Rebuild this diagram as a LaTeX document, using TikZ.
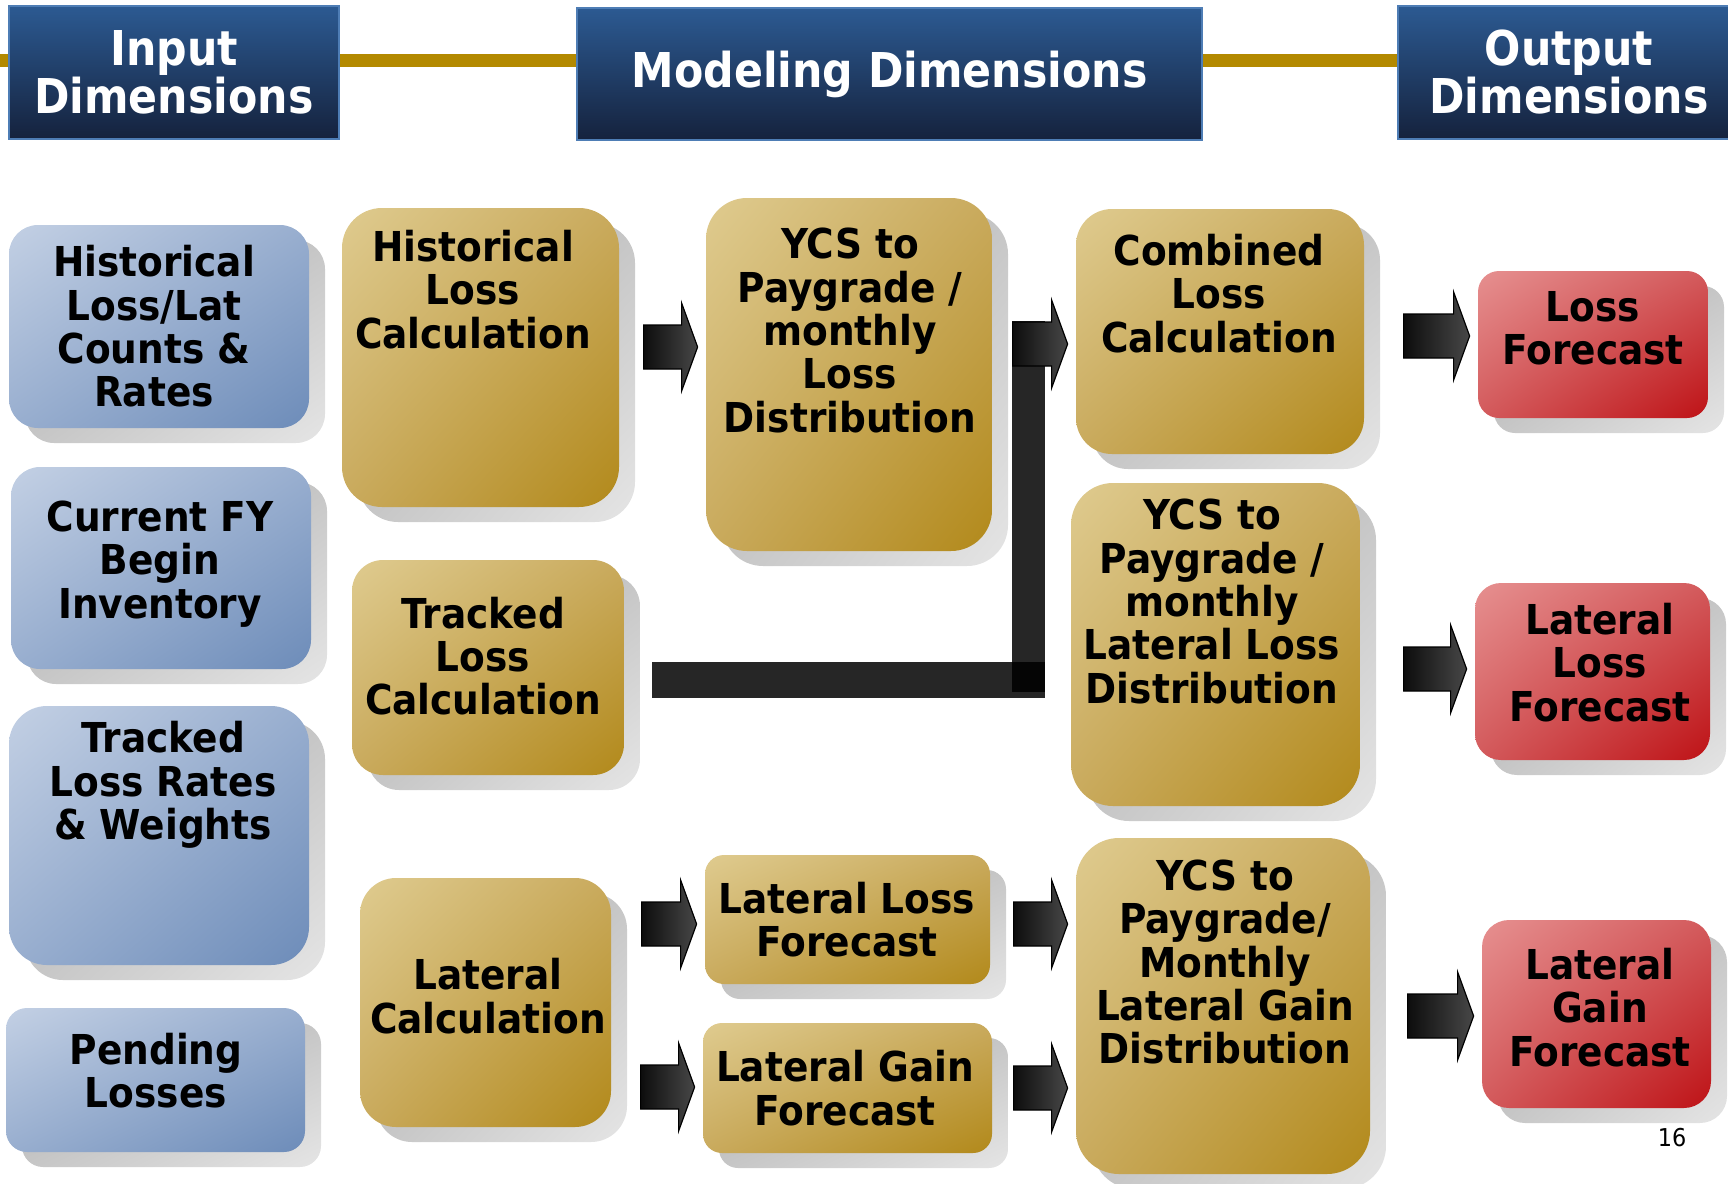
\documentclass[tikz,border=0pt]{standalone}
\usepackage{fontspec}
\usetikzlibrary{calc,fit,backgrounds,shadings}
\newfontfamily\boxfont{DejaVu Sans}[FakeStretch=0.91]
\newfontfamily\headfont{DejaVu Sans}[FakeStretch=0.89]

\definecolor{hdtop}{HTML}{2C5A92}
\definecolor{hdbot}{HTML}{15223D}
\definecolor{hdline}{HTML}{4E7DB5}
\definecolor{goldbar}{HTML}{B38900}
\definecolor{blueA}{HTML}{C3D0E4}
\definecolor{blueB}{HTML}{98AECF}
\definecolor{blueC}{HTML}{6D8CB9}
\definecolor{goldA}{HTML}{DFCB8F}
\definecolor{goldB}{HTML}{C9AA5D}
\definecolor{goldC}{HTML}{B2891A}
\definecolor{redA}{HTML}{E69090}
\definecolor{redB}{HTML}{D35A5C}
\definecolor{redC}{HTML}{BE1216}
\definecolor{shdA}{HTML}{A8A8A8}
\definecolor{shdB}{HTML}{C6C6C6}
\definecolor{shdC}{HTML}{E5E5E5}
\definecolor{barc}{HTML}{262626}
\definecolor{barjoint}{HTML}{050505}

\tikzset{
  headbox/.style={draw=hdline, line width=0.75pt, top color=hdtop, bottom color=hdbot,
    text=white, align=center, inner sep=0pt,
    font={\headfont\bfseries\fontsize{24}{24}\selectfont}},
  bluebox/.style={upper left=blueA, upper right=blueB, lower left=blueB, lower right=blueC, inner sep=0pt},
  goldbox/.style={upper left=goldA, upper right=goldB, lower left=goldB, lower right=goldC, inner sep=0pt},
  redbox/.style={upper left=redA, upper right=redB, lower left=redB, lower right=redC, inner sep=0pt},
  boxshadow/.style={upper left=shdA, upper right=shdB, lower left=shdB, lower right=shdC},
  boxtext/.style={align=center, inner sep=0pt, font={\boxfont\bfseries\fontsize{20.6}{21.65}\selectfont}},
  arrowshade/.style={left color=black!95, right color=black!72, draw=black, line width=0.6pt},
  goldline/.style={goldbar, line width=6.5pt}
}

% box with drop shadow: style, name, nw corner, se corner, radius (pt), text position, text
\newcommand{\slidebox}[7]{%
  \path[boxshadow, rounded corners=#5pt] ($#3+(16,15)$) rectangle ($#4+(16,15)$);
  \node[#1, rounded corners=#5pt, fit={#3 #4}] (#2) {};
  \node[boxtext] (#2-t) at #6 {#7};
}

% block arrow pointing at a node: target, y, length
\newcommand{\blockarrow}[3]{%
  \path[arrowshade] ($(#1.west |- 0,#2)+(-8,0)$) ++(-#3,-22) -- ++({#3-16},0) -- ++(0,-22)
    -- ++(16,44) -- ++(-16,44) -- ++(0,-22) -- ++({16-#3},0) -- cycle;
}

\begin{document}
\begin{tikzpicture}[x=0.5pt,y=-0.5pt]
  \useasboundingbox (0,0) rectangle (1728,1183);
  \clip (0,0) rectangle (1728,1183);

  % column headers
  \node[headbox, minimum width=165pt, minimum height=66.5pt] (hin) at (174,72.5) {Input\\Dimensions};
  \node[headbox, minimum width=312.5pt, minimum height=66pt] (hmod) at (889.5,74) {Modeling Dimensions};
  \node[headbox, minimum width=171pt, minimum height=66.5pt] (hout) at (1569,72.5) {Output\\Dimensions};
  \begin{scope}[on background layer]
    \draw[goldline] (0,60.5) -- (hout.center |- 0,60.5);
  \end{scope}

  % inputs
  \slidebox{bluebox}{b1}{(9,225)}{(309,428)}{14.5}{(154,326.5)}{Historical\\Loss/Lat\\Counts \&\\Rates}
  \slidebox{bluebox}{b2}{(11,467)}{(311,669)}{14.5}{(160,564)}{Current FY\\Begin\\Inventory}
  \slidebox{bluebox}{b3}{(9,706)}{(309,965)}{19}{(163,785)}{Tracked\\Loss Rates\\\& Weights}
  \slidebox{bluebox}{b4}{(6,1008)}{(305,1152)}{10.5}{(156,1070.5)}{Pending\\Losses}

  % modeling
  \slidebox{goldbox}{g1}{(342,208)}{(619,507)}{20}{(473,289.5)}{Historical\\Loss\\Calculation}
  \slidebox{goldbox}{g2}{(352,560)}{(624,775)}{15.5}{(483,656)}{Tracked\\Loss\\Calculation}
  \slidebox{goldbox}{g3}{(360,878)}{(611,1127)}{18}{(488,996)}{Lateral\\Calculation}
  \slidebox{goldbox}{g4}{(706,198)}{(992,551)}{20.5}{(850,330.5)}{YCS to\\Paygrade /\\monthly\\Loss\\Distribution}
  \slidebox{goldbox}{g5}{(705,855)}{(990,984)}{9.5}{(847,919.5)}{Lateral Loss\\Forecast}
  \slidebox{goldbox}{g6}{(703,1023)}{(992,1153)}{9.5}{(845,1088)}{Lateral Gain\\Forecast}
  \slidebox{goldbox}{g7}{(1076,209)}{(1364,454)}{18}{(1219,293.5)}{Combined\\Loss\\Calculation}
  \slidebox{goldbox}{g8}{(1071,483)}{(1360,806)}{21}{(1212,601.5)}{YCS to\\Paygrade /\\monthly\\Lateral Loss\\Distribution}
  \slidebox{goldbox}{g9}{(1076,838)}{(1370,1174)}{21.5}{(1225,962)}{YCS to\\Paygrade/\\Monthly\\Lateral Gain\\Distribution}

  % outputs
  \slidebox{redbox}{r1}{(1478,271)}{(1708,418)}{10.5}{(1593,328.5)}{Loss\\Forecast}
  \slidebox{redbox}{r2}{(1475,583)}{(1710,760)}{13}{(1600,662.5)}{Lateral\\Loss\\Forecast}
  \slidebox{redbox}{r3}{(1482,920)}{(1711,1108)}{13.5}{(1600,1007.5)}{Lateral\\Gain\\Forecast}

  % tracked loss joins the combined loss arrow
  \coordinate (joint) at (1045,698);
  \fill[barc] ([xshift=14pt]g2.east |- 0,662) rectangle (joint);
  \fill[barc] (1012,321) rectangle (1045,692);
  \fill[barjoint] (1012,662) rectangle (1045,692);

  % flow arrows
  \blockarrow{g4}{347}{54}
  \blockarrow{g7}{344}{55}
  \blockarrow{r1}{336}{66}
  \blockarrow{r2}{669}{63}
  \blockarrow{g5}{924}{55}
  \blockarrow{g6}{1087}{54}
  \blockarrow{g9}{924}{54}
  \blockarrow{g9}{1088}{54}
  \blockarrow{r3}{1016}{66}

  \node[font={\boxfont\fontsize{12.3}{14}\selectfont}, inner sep=0pt] (pg) at (1672,1138) {16};
\end{tikzpicture}
\end{document}
